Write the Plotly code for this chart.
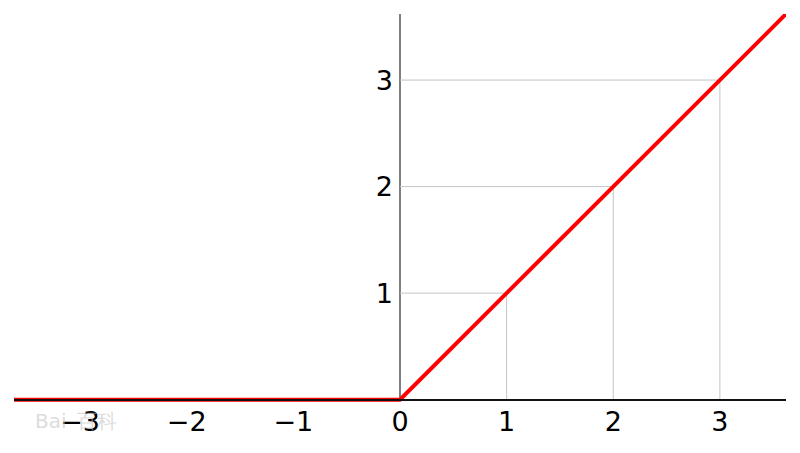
import plotly.graph_objects as go

# ReLU curve
x_vals = [-3.62, 0.0, 3.62]
y_vals = [max(0.0, v) for v in x_vals]

x_ticks = [-3, -2, -1, 0, 1, 2, 3]
x_tick_text = ["\u22123", "\u22122", "\u22121", "0", "1", "2", "3"]
y_ticks = [1, 2, 3]
y_tick_text = ["1", "2", "3"]

x_range = [-3.62, 3.62]
y_top = 3.62
y_pad = 0.2
p0 = y_pad / (y_top + y_pad)  # paper fraction of y = 0

# guide segments from each tick to the curve
gx, gy = [], []
for t in y_ticks:
    gx += [t, t, None, 0, t, None]
    gy += [0, t, None, t, t, None]

fig = go.Figure()

fig.add_trace(
    go.Scatter(
        x=gx,
        y=gy,
        mode="lines",
        line=dict(color="#c4c4c4", width=1),
        hoverinfo="skip",
        showlegend=False,
    )
)

fig.add_trace(
    go.Scatter(
        x=x_vals,
        y=y_vals,
        mode="lines",
        line=dict(color="#ff0000", width=4),
        showlegend=False,
    )
)

# left spine of the y axis, from y = 0 up
fig.add_shape(
    type="line",
    x0=0, x1=0, y0=0, y1=y_top,
    xref="x", yref="y",
    line=dict(color="#555555", width=1.5),
    layer="below",
)

# faint watermark
fig.add_annotation(
    text="Bai\u2002百科",
    x=0.025,
    y=0.0,
    xref="paper",
    yref="paper",
    xanchor="left",
    yanchor="middle",
    showarrow=False,
    font=dict(family="DejaVu Sans", size=20, color="rgba(190,190,190,0.55)"),
)

fig.update_layout(
    width=800,
    height=453,
    margin=dict(l=14, r=14, t=14, b=32),
    paper_bgcolor="white",
    plot_bgcolor="white",
    font=dict(family="DejaVu Sans", size=27, color="black"),
    xaxis=dict(
        range=x_range,
        anchor="free",
        position=p0,
        showline=True,
        linecolor="#111111",
        linewidth=1.5,
        showgrid=False,
        zeroline=False,
        tickmode="array",
        tickvals=x_ticks,
        ticktext=x_tick_text,
        ticks="",
        ticklabelstandoff=-2,
        automargin=False,
        fixedrange=True,
    ),
    yaxis=dict(
        range=[-y_pad, y_top],
        anchor="free",
        position=0.5,
        showline=False,
        showgrid=False,
        zeroline=False,
        tickmode="array",
        tickvals=y_ticks,
        ticktext=y_tick_text,
        ticks="",
        ticklabelstandoff=7,
        automargin=False,
        fixedrange=True,
    ),
)

fig.write_html(
    "out.html",
    config={"displayModeBar": False},
    post_script="document.body.style.margin='0';",
)
